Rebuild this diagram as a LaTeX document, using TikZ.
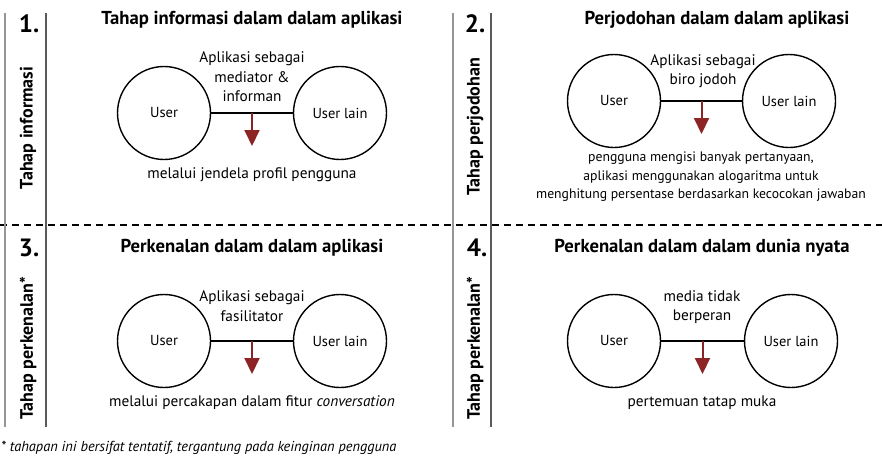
\documentclass[tikz,border=0pt]{standalone}
\usepackage{fontspec}
\setmainfont{PT Sans}
\usetikzlibrary{arrows.meta,calc}
\definecolor{arrred}{RGB}{140,36,38}
\definecolor{linegray}{RGB}{90,90,90}
\definecolor{lightline}{RGB}{150,150,150}
\tikzset{
  person/.style={circle, draw, line width=1.4pt, minimum size=93pt, inner sep=0pt, font=\fontsize{14.5}{16}\selectfont},
  link/.style={line width=1.4pt},
  downarrow/.style={draw=arrred, line width=2pt, -{Triangle[width=15pt,length=16pt]}, arrred},
  ttl/.style={font=\fontsize{18.7}{22}\selectfont\bfseries, inner sep=0pt},
  num/.style={font=\fontsize{25}{27}\selectfont\bfseries, inner sep=0pt},
  side/.style={font=\fontsize{18}{20}\selectfont\bfseries, rotate=90, inner sep=0pt},
  body/.style={font=\fontsize{15.3}{19.5}\selectfont, align=center, inner sep=0pt},
  smallbody/.style={font=\fontsize{13.7}{18.5}\selectfont, align=center, inner sep=0pt},
  sep/.style={line width=1.6pt, dash pattern=on 7pt off 5pt},
  vline/.style={line width=1.2pt, linegray},
  vlinel/.style={line width=1.2pt, lightline}
}
\begin{document}
\begin{tikzpicture}[x=1pt, y=-1pt]
\useasboundingbox (0,0) rectangle (882,455);
% separators
\coordinate (s1) at (0,225);
\coordinate (s2) at (882,225);
\draw[sep] (s1) -- (s2);
\coordinate (va1) at (5,13); \coordinate (va2) at (5,427);
\coordinate (vb1) at (46,13); \coordinate (vb2) at (46,427);
\coordinate (vc1) at (453,13); \coordinate (vc2) at (453,427);
\coordinate (vd1) at (491,13); \coordinate (vd2) at (491,427);
\draw[vlinel] (va1) -- (va2);
\draw[vline] (vb1) -- (vb2);
\draw[vlinel] (vc1) -- (vc2);
\draw[vline] (vd1) -- (vd2);

% ---------- Panel 1
\node[num] (n1) at (29,24) {1.};
\node[side] (s1l) at (28,128) {Tahap informasi};
\node[ttl] (t1) at (252,20) {Tahap informasi dalam dalam aplikasi};
\node[person] (u1) at (164,113) {User};
\node[person] (o1) at (340,113) {User lain};
\draw[link] (u1) -- (o1);
\coordinate (m1) at ($(u1.east)!0.5!(o1.west)$);
\coordinate (e1) at ($(m1)+(0,33)$);
\draw[downarrow] (m1) -- (e1);
\node[body] (a1) at (252,77) {Aplikasi sebagai\\mediator \&\\informan};
\node[body] (b1) at (252,175) {melalui jendela profil pengguna};

% ---------- Panel 2
\node[num] (n2) at (475,24) {2.};
\node[side] (s2l) at (475,127) {Tahap perjodohan};
\node[ttl] (t2) at (717,20) {Perjodohan dalam dalam aplikasi};
\node[person] (u2) at (614,101) {User};
\node[person] (o2) at (789,101) {User lain};
\draw[link] (u2) -- (o2);
\coordinate (m2) at ($(u2.east)!0.5!(o2.west)$);
\coordinate (e2) at ($(m2)+(0,33)$);
\draw[downarrow] (m2) -- (e2);
\node[body] (a2) at (703,71) {Aplikasi sebagai\\biro jodoh};
\node[smallbody] (b2) at (701,177) {pengguna mengisi banyak pertanyaan,\\aplikasi menggunakan alogaritma untuk\\menghitung persentase berdasarkan kecocokan jawaban};

% ---------- Panel 3
\node[num] (n3) at (29,248) {3.};
\node[side] (s3l) at (28,348) {Tahap perkenalan*};
\node[ttl] (t3) at (252,248) {Perkenalan dalam dalam aplikasi};
\node[person] (u3) at (164,341) {User};
\node[person] (o3) at (340,341) {User lain};
\draw[link] (u3) -- (o3);
\coordinate (m3) at ($(u3.east)!0.5!(o3.west)$);
\coordinate (e3) at ($(m3)+(0,33)$);
\draw[downarrow] (m3) -- (e3);
\node[body] (a3) at (252,306) {Aplikasi sebagai\\fasilitator};
\node[body] (b3) at (252,403) {melalui percakapan dalam fitur \textit{conversation}};

% ---------- Panel 4
\node[num] (n4) at (477,248) {4.};
\node[side] (s4l) at (475,348) {Tahap perkenalan*};
\node[ttl] (t4) at (702,248) {Perkenalan dalam dalam dunia nyata};
\node[person] (u4) at (614,341) {User};
\node[person] (o4) at (791,341) {User lain};
\draw[link] (u4) -- (o4);
\coordinate (m4) at ($(u4.east)!0.5!(o4.west)$);
\coordinate (e4) at ($(m4)+(0,33)$);
\draw[downarrow] (m4) -- (e4);
\node[body] (a4) at (702,307) {media tidak\\berperan};
\node[body] (b4) at (702,403) {pertemuan tatap muka};

% footnote
\node[anchor=base west, inner sep=0pt, font=\fontsize{14.4}{16}\selectfont\itshape] (fn) at (1,451) {* tahapan ini bersifat tentatif, tergantung pada keinginan pengguna};
\end{tikzpicture}
\end{document}
